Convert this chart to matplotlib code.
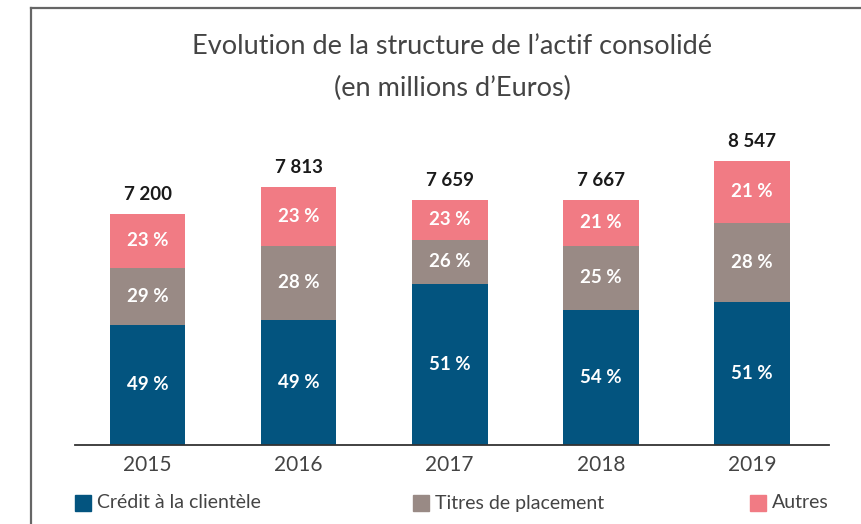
import matplotlib.pyplot as plt
from matplotlib.lines import Line2D
from matplotlib.patches import Rectangle

years = ['2015', '2016', '2017', '2018', '2019']
totals = ['7 200', '7 813', '7 659', '7 667', '8 547']

# segment heights as drawn (millions of euros)
credit = [3760, 3915, 5030, 4220, 4470]
titres = [1780, 2300, 1385, 2000, 2470]
autres = [1680, 1855, 1240, 1440, 1940]

# percentage labels printed on the bars
credit_pct = [49, 49, 51, 54, 51]
titres_pct = [29, 28, 26, 25, 28]
autres_pct = [23, 23, 23, 21, 21]

series_names = ['Crédit à la clientèle', 'Titres de placement', 'Autres']
colors = ['#03547f', '#998a85', '#f17b84']

plt.rcParams['font.family'] = ['Lato', 'DejaVu Sans']
TXT = '#444444'

fig = plt.figure(figsize=(8.61, 5.24), dpi=100)
ax = fig.add_axes([75 / 861, 1 - 445 / 524, 754 / 861, 320 / 524])

x = list(range(len(years)))
bottom = [0] * len(years)
for vals, pcts, col in zip([credit, titres, autres],
                           [credit_pct, titres_pct, autres_pct], colors):
    ax.bar(x, vals, bottom=bottom, width=0.5, color=col)
    for i in x:
        ax.text(i, bottom[i] + vals[i] / 2, '%d %%' % pcts[i],
                ha='center', va='center', color='white',
                fontsize=13.5, fontweight='bold')
    bottom = [b + v for b, v in zip(bottom, vals)]

for i in x:
    ax.annotate(totals[i], (i, bottom[i]), xytext=(0, 8),
                textcoords='offset points', ha='center', va='bottom',
                fontsize=13.5, fontweight='bold', color='#1a1a1a')

ax.set_xlim(-0.48, 4.51)
ax.set_ylim(0, 10000)
ax.set_xticks(x)
ax.set_xticklabels(years, fontsize=15, color=TXT)
ax.tick_params(axis='x', length=0, pad=7)
ax.set_yticks([])
for s in ['top', 'right', 'left']:
    ax.spines[s].set_visible(False)
ax.spines['bottom'].set_color('#333333')
ax.spines['bottom'].set_linewidth(1.3)

# title
fig.text(0.525, 1 - 47 / 524, 'Evolution de la structure de l\u2019actif consolidé',
         ha='center', va='center', fontsize=19.5, color=TXT)
fig.text(0.525, 1 - 88 / 524, '(en millions d\u2019Euros)',
         ha='center', va='center', fontsize=19.5, color=TXT)

# frame lines
fig.add_artist(Line2D([31 / 861, 31 / 861], [0, 1 - 8 / 524],
                      transform=fig.transFigure, color='#666666', lw=1.6))
fig.add_artist(Line2D([31 / 861, 1], [1 - 8 / 524, 1 - 8 / 524],
                      transform=fig.transFigure, color='#666666', lw=1.6))

# legend
leg_x = [75, 413, 750]
for lx, name, col in zip(leg_x, series_names, colors):
    fig.add_artist(Rectangle((lx / 861, 1 - 511 / 524), 16 / 861, 16 / 524,
                             transform=fig.transFigure, color=col))
    fig.text((lx + 22) / 861, 1 - 503 / 524, name, ha='left', va='center',
             fontsize=14, color=TXT)

fig.savefig('out.png', dpi=100)
